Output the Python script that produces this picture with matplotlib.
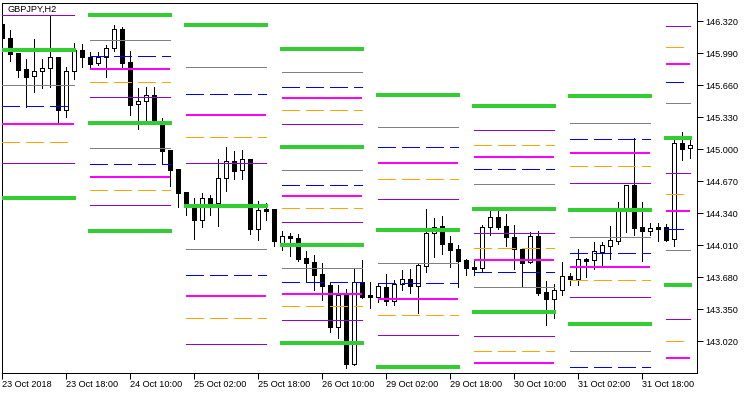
# plot.py
#
#    purpose: GBPJPY H2 candles with daily pivot-style level segments
#

# import necessary libraries
import matplotlib
matplotlib.use("Agg")
import matplotlib.pyplot as plt
from matplotlib.patches import Rectangle

# H2 bars, oldest first
bar_open = [146.289, 146.148, 145.993, 145.828, 145.752, 145.804, 145.835, 145.952, 145.408, 145.804,
            146.024, 145.949, 145.887, 145.949, 146.041, 146.238, 145.900, 145.463, 145.494, 145.556,
            145.250, 144.992, 144.796, 144.558, 144.417, 144.269, 144.496, 144.448, 144.700, 144.875,
            144.782, 144.899, 144.179, 144.386, 144.383, 144.029, 144.101, 144.083, 143.877, 143.836,
            143.712, 143.598, 143.168, 143.502, 142.786, 143.626, 143.495, 143.477, 143.578, 143.436,
            143.605, 143.663, 143.591, 143.797, 144.132, 144.204, 144.032, 143.967, 143.856, 143.784,
            143.771, 144.194, 144.297, 144.204, 144.094, 143.970, 143.833, 144.104, 143.526, 143.451,
            143.543, 143.688, 143.657, 143.867, 143.853, 143.942, 144.004, 144.055, 144.362, 144.630,
            144.194, 144.159, 144.197, 144.194, 144.070, 145.061, 145.009]
bar_high = [146.313, 146.230, 145.993, 145.931, 146.137, 145.931, 146.385, 145.952, 145.845, 146.093,
            146.083, 146.006, 146.000, 146.076, 146.282, 146.261, 146.014, 145.629, 145.642, 145.642,
            145.319, 144.992, 144.796, 144.558, 144.496, 144.548, 144.527, 144.899, 145.023, 144.981,
            144.992, 144.899, 144.465, 144.442, 144.383, 144.156, 144.135, 144.122, 143.949, 143.908,
            143.825, 143.626, 143.598, 143.554, 143.771, 143.856, 143.626, 143.616, 143.709, 143.650,
            143.753, 143.763, 143.822, 144.383, 144.287, 144.310, 144.104, 144.008, 143.863, 143.846,
            144.218, 144.362, 144.362, 144.331, 144.218, 143.970, 144.142, 144.156, 143.640, 143.605,
            143.836, 143.719, 143.970, 143.880, 144.045, 144.045, 144.207, 144.458, 144.630, 145.112,
            144.458, 144.235, 144.235, 144.231, 145.095, 145.177, 145.112]
bar_low = [146.127, 145.913, 145.748, 145.439, 145.593, 145.635, 145.645, 145.267, 145.329, 145.728,
           145.852, 145.835, 145.869, 145.748, 146.017, 145.852, 145.350, 145.212, 145.294, 145.260,
           144.844, 144.623, 144.406, 144.321, 144.073, 144.200, 144.321, 144.207, 144.572, 144.692,
           144.692, 144.125, 144.066, 144.269, 144.001, 143.959, 143.898, 143.846, 143.643, 143.547,
           143.446, 143.116, 143.054, 142.745, 142.772, 143.467, 143.358, 143.420, 143.389, 143.392,
           143.547, 143.513, 143.306, 143.736, 143.890, 143.918, 143.787, 143.578, 143.701, 143.701,
           143.736, 144.117, 144.176, 144.001, 143.763, 143.578, 143.822, 143.495, 143.188, 143.261,
           143.495, 143.598, 143.601, 143.684, 143.760, 143.794, 143.867, 144.021, 144.148, 144.114,
           143.846, 144.114, 144.052, 144.055, 144.001, 144.888, 144.906]
bar_close = [146.145, 145.986, 145.821, 145.748, 145.807, 145.835, 145.949, 145.408, 145.804, 146.024,
             145.955, 145.882, 145.949, 146.041, 146.238, 145.893, 145.459, 145.494, 145.556, 145.281,
             144.984, 144.785, 144.551, 144.414, 144.269, 144.493, 144.445, 144.700, 144.875, 144.778,
             144.896, 144.179, 144.372, 144.365, 144.055, 144.101, 144.080, 143.870, 143.828, 143.705,
             143.591, 143.168, 143.495, 142.786, 143.626, 143.477, 143.477, 143.585, 143.436, 143.605,
             143.665, 143.591, 143.802, 144.132, 144.200, 144.025, 143.959, 143.849, 143.777, 143.766,
             144.194, 144.297, 144.200, 144.091, 143.967, 143.828, 144.104, 143.519, 143.451, 143.547,
             143.688, 143.657, 143.863, 143.849, 143.949, 144.011, 144.063, 144.362, 144.630, 144.190,
             144.159, 144.183, 144.179, 144.063, 145.061, 145.005, 145.043]

# time axis labels (one every 8 bars)
time_labels = ["23 Oct 2018", "23 Oct 18:00", "24 Oct 10:00", "25 Oct 02:00", "25 Oct 18:00",
               "26 Oct 10:00", "29 Oct 02:00", "29 Oct 18:00", "30 Oct 10:00", "31 Oct 02:00",
               "31 Oct 18:00"]
label_step = 8

# price axis labels
price_ticks = [146.320, 145.990, 145.660, 145.330, 145.000, 144.670,
               144.340, 144.010, 143.680, 143.350, 143.020]

# bar index where each day's level segments start / stop
day_start = [-1, 11, 23, 35, 47, 59, 71, 83]
day_end = [9, 21, 33, 45, 57, 69, 81, 86]

# daily levels, one list per day
green_lv = [[146.027, 144.499], [146.388, 145.270, 144.156], [146.282, 144.417],
            [146.034, 145.023, 144.014, 143.000], [145.559, 144.163, 142.755],
            [145.446, 144.383, 143.320], [145.549, 144.372, 143.196], [145.119, 143.595]]
gray_lv = [[145.660], [146.124, 145.009], [145.845, 143.967], [145.794, 144.782, 143.774],
           [145.226, 143.822], [144.639, 143.574], [145.267, 144.091, 142.914], [145.474, 143.956]]
blue_lv = [[145.443], [145.959, 144.844], [145.567, 143.698], [145.639, 144.627, 143.629],
           [145.020, 143.616], [144.792, 143.732], [145.102, 143.929, 142.752], [145.694, 144.173]]
magenta_lv = [[145.263], [145.831, 144.716], [145.356, 143.485], [145.532, 144.520, 143.505],
              [144.861, 143.454], [144.919, 143.856, 142.795], [144.961, 143.784],
              [145.882, 144.365, 142.848]]
orange_lv = [[145.071], [145.694, 144.576], [145.126, 143.258], [145.401, 144.390, 143.378],
             [144.689, 143.285], [145.040, 143.977, 142.914], [144.827, 143.647],
             [146.052, 144.535, 143.017]]
purple_lv = [[146.382, 144.854], [145.536, 144.421], [144.854, 142.986],
             [145.257, 144.245, 143.234], [144.483, 143.079], [145.195, 144.132, 143.069],
             [144.648, 143.471], [146.272, 144.751, 143.247]]

# 1 px = 0.72 pt at 100 dpi
px = 0.72
dash = (0, (18, 6))
level_styles = [
    (gray_lv, "#808080", px, "-", "butt"),
    (blue_lv, "#0000FF", px, dash, "butt"),
    (orange_lv, "#FFA500", px, dash, "butt"),
    (purple_lv, "#9400D3", px, "-", "butt"),
    (magenta_lv, "#FF00FF", 2 * px, "-", "butt"),
    (green_lv, "#32CD32", 4 * px, "-", "projecting"),
]

plt.rcParams["font.family"] = ["Liberation Sans", "DejaVu Sans"]
plt.rcParams["font.size"] = 6.6

fig = plt.figure(figsize=(7.5, 3.94), dpi=100)
ax = fig.add_axes([2 / 750, 21 / 394, 695 / 750, 370 / 394])
xmin, xmax = -0.04, 86.84
ax.set_xlim(xmin, xmax)
ax.set_ylim(142.690, 146.509)

# candles (crisp, like the terminal draws them)
for i, (o, h, l, c) in enumerate(zip(bar_open, bar_high, bar_low, bar_close)):
    ax.vlines(i, l, h, color="black", lw=px, zorder=2, antialiased=False)
    face = "white" if c > o else "black"
    ax.add_patch(Rectangle((i - 0.27, min(o, c)), 0.54, max(abs(c - o), 0.006),
                           facecolor=face, edgecolor="black", lw=px, zorder=3,
                           antialiased=False))

# level segments, drawn on top of the bars
for levels, color, lw, ls, cap in level_styles:
    for d, day in enumerate(levels):
        x0 = max(day_start[d], xmin)
        for v in day:
            ax.plot([x0, day_end[d]], [v, v], color=color, lw=lw, linestyle=ls,
                    solid_capstyle=cap, dash_capstyle="butt", zorder=4,
                    antialiased=False)

# axes look
for s in ax.spines.values():
    s.set_linewidth(px)
ax.yaxis.tick_right()
ax.set_yticks(price_ticks)
ax.set_yticklabels(["%.3f" % v for v in price_ticks])
ax.tick_params(axis="y", direction="out", length=4, width=px, pad=2, labelsize=6.6)
ax.set_xticks(range(0, label_step * len(time_labels), label_step))
ax.set_xticklabels(time_labels, ha="left")
ax.tick_params(axis="x", direction="out", length=4, width=px, pad=1, labelsize=6.6)

ax.text(0.0075, 0.996, "GBPJPY,H2", transform=ax.transAxes, ha="left", va="top",
        fontsize=6.6, zorder=5)

fig.savefig("out.png", dpi=100)
